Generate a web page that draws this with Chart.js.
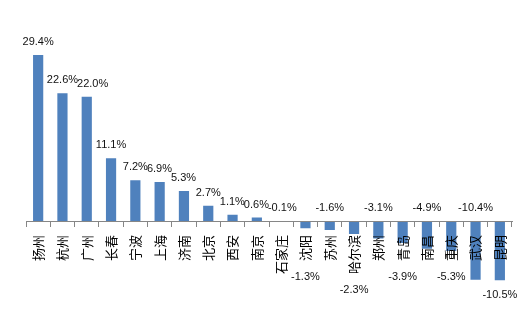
<!DOCTYPE html>
<html lang="zh">
<head>
<meta charset="utf-8">
<script src="https://cdn.jsdelivr.net/npm/chart.js@4.4.1/dist/chart.umd.min.js"></script>
<style>
    html, body { margin: 0; padding: 0; background: #fff; }
</style>
</head>
<body>
<canvas id="chart" width="531" height="322"></canvas>
<script>
const cities = ['扬州', '杭州', '广州', '长春', '宁波', '上海', '济南', '北京', '西安', '南京',
    '石家庄', '沈阳', '苏州', '哈尔滨', '郑州', '青岛', '南昌', '重庆', '武汉', '昆明'];
const growth = [29.4, 22.6, 22.0, 11.1, 7.2, 6.9, 5.3, 2.7, 1.1, 0.6,
    -0.1, -1.3, -1.6, -2.3, -3.1, -3.9, -4.9, -5.3, -10.4, -10.5];

const tickFont = { family: '"Noto Sans CJK SC", "Noto Sans", sans-serif', size: 13 };
const labelFont = '11px "Liberation Sans", Arial, sans-serif';

// etiquetas de valor: positivas em cima, negativas alternando em cima / embaixo
const valueLabels = {
    id: 'valueLabels',
    afterDraw(chart) {
        const ctx = chart.ctx;
        const meta = chart.getDatasetMeta(0);
        const zero = chart.scales.y.getPixelForValue(0);
        ctx.save();
        ctx.fillStyle = '#111';
        ctx.textAlign = 'center';
        ctx.textBaseline = 'middle';
        let negCount = 0;
        let prev = null;
        meta.data.forEach((bar, i) => {
            const v = growth[i];
            const text = v.toFixed(1) + '%';
            let below = false;
            if (v < 0) {
                below = negCount % 2 === 1;
                negCount++;
            }
            ctx.font = `${tickFont.size}px ${tickFont.family}`;
            const catLen = ctx.measureText(cities[i]).width;
            ctx.font = labelFont;
            const w = ctx.measureText(text).width;
            let x = bar.x;
            let y;
            if (!below) {
                y = Math.min(bar.y, zero) - 13;
                if (prev && Math.abs(prev.y - y) < 10 && x - w / 2 < prev.right) {
                    x = prev.right - 1 + w / 2;
                }
                prev = { y: y, right: x + w / 2 };
            } else {
                y = Math.max(bar.y, zero + 15 + catLen) + 15;
            }
            ctx.fillText(text, x, y);
        });
        ctx.restore();
    }
};

new Chart(document.getElementById('chart'), {
    type: 'bar',
    data: {
        labels: cities,
        datasets: [{
            data: growth,
            backgroundColor: '#4f81bd',
            barPercentage: 0.42,
            categoryPercentage: 1
        }]
    },
    options: {
        responsive: false,
        animation: false,
        devicePixelRatio: 1,
        layout: { padding: { left: 26, right: 19, top: 51.5, bottom: 33.2 } },
        plugins: {
            legend: { display: false },
            tooltip: { enabled: false }
        },
        scales: {
            y: { display: false, min: -12, max: 30 },
            x: {
                position: { y: 0 },
                grid: { drawOnChartArea: false, drawTicks: true, tickLength: 5, color: '#868686', z: 1 },
                border: { display: true, color: '#868686', z: 1 },
                ticks: {
                    z: 1,
                    autoSkip: false,
                    minRotation: 90,
                    maxRotation: 90,
                    padding: 9,
                    color: '#000',
                    font: tickFont
                }
            }
        }
    },
    plugins: [valueLabels]
});
</script>
</body>
</html>
